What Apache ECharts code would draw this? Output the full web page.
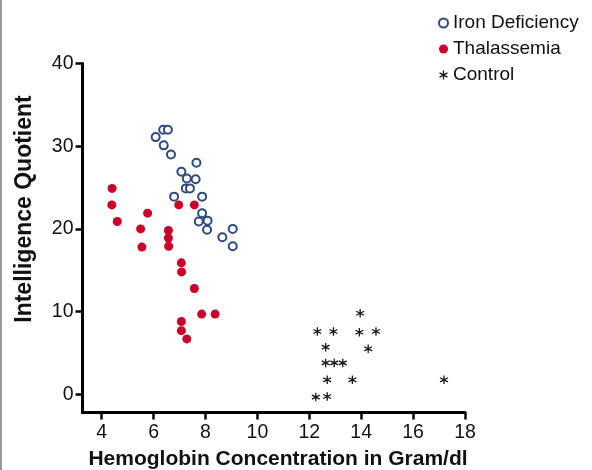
<!DOCTYPE html>
<html>
<head>
<meta charset="utf-8">
<script src="https://cdn.jsdelivr.net/npm/echarts@6/dist/echarts.min.js"></script>
<style>html,body{margin:0;padding:0;background:#fff;}#c{width:592px;height:470px;}</style>
</head>
<body>
<div id="c"></div>
<script>
// Data
const seriesNames = ['Iron Deficiency', 'Thalassemia', 'Control'];
const ironX = [6.08, 6.37, 6.55, 6.39, 6.67, 7.65, 7.07, 7.28, 7.62, 7.24, 7.40, 6.79, 7.87, 7.87, 7.74, 8.08, 8.06, 9.05, 8.65, 9.05];
const ironY = [31.1, 32.0, 32.0, 30.1, 29.0, 28.0, 26.9, 26.1, 26.0, 24.9, 24.9, 23.9, 23.9, 21.9, 20.9, 21.0, 19.9, 20.0, 19.0, 17.9];
const thalX = [4.40, 4.39, 4.60, 5.77, 5.50, 5.55, 6.97, 7.57, 6.57, 6.57, 6.58, 7.07, 7.08, 7.57, 7.85, 8.37, 7.07, 7.07, 7.28];
const thalY = [24.9, 22.9, 20.9, 21.9, 20.0, 17.8, 22.9, 22.9, 19.8, 18.9, 17.9, 15.9, 14.8, 12.8, 9.7, 9.7, 8.8, 7.7, 6.7];
const ctrlX = [13.96, 12.31, 12.93, 13.93, 14.57, 12.63, 14.27, 12.63, 12.96, 13.29, 12.69, 13.66, 17.19, 12.25, 12.69];
const ctrlY = [9.8, 7.6, 7.6, 7.5, 7.6, 5.7, 5.5, 3.8, 3.8, 3.8, 1.75, 1.75, 1.75, -0.34, -0.27];
const xTicks = [4, 6, 8, 10, 12, 14, 16, 18];
const yTicks = [0, 10, 20, 30, 40];
const xTitle = 'Hemoglobin Concentration in Gram/dl';
const yTitle = 'Intelligence Quotient';

const zip = (xs, ys) => xs.map((x, i) => [x, ys[i]]);
const asterisk = 'path://M8.5 0 L11.5 0 L11.5 20 L8.5 20 Z M0.45 6.55 L1.95 3.95 L19.55 13.45 L18.05 16.05 Z M1.95 16.05 L0.45 13.45 L18.05 3.95 L19.55 6.55 Z';
const FONT = "'Liberation Sans', Arial, sans-serif";

const chart = echarts.init(document.getElementById('c'), null, {renderer: 'canvas'});
chart.setOption({
  animation: false,
  backgroundColor: '#ffffff',
  grid: {left: 82.5, right: 127, top: 63.5, bottom: 57.5, containLabel: false},
  legend: {
    orient: 'vertical', left: 438, top: 13, padding: 0, itemWidth: 9, itemHeight: 9, itemGap: 6,
    textStyle: {fontFamily: FONT, fontSize: 19, color: '#111', lineHeight: 20},
    data: seriesNames
  },
  xAxis: {
    type: 'value', min: 3.26, max: 18,
    axisLine: {onZero: false, lineStyle: {color: '#000', width: 3}},
    axisTick: {show: true, length: 7, lineStyle: {color: '#000', width: 2.5}, customValues: xTicks},
    axisLabel: {margin: 10, fontFamily: FONT, fontSize: 19.5, color: '#111', customValues: xTicks},
    splitLine: {show: false}
  },
  yAxis: {
    type: 'value', min: -2.2, max: 40,
    axisLine: {show: true, onZero: false, lineStyle: {color: '#000', width: 3}},
    axisTick: {show: true, length: 7, lineStyle: {color: '#000', width: 2.5}, customValues: yTicks},
    axisLabel: {margin: 9, fontFamily: FONT, fontSize: 19.5, color: '#111', customValues: yTicks},
    splitLine: {show: false}
  },
  series: [
    {
      name: seriesNames[0], type: 'scatter', data: zip(ironX, ironY),
      symbol: 'circle', symbolSize: 8,
      itemStyle: {color: '#ffffff', borderColor: '#2f4a7e', borderWidth: 2, opacity: 1}
    },
    {
      name: seriesNames[1], type: 'scatter', data: zip(thalX, thalY),
      symbol: 'circle', symbolSize: 9,
      itemStyle: {color: '#c8002a', opacity: 1}
    },
    {
      name: seriesNames[2], type: 'scatter', data: zip(ctrlX, ctrlY),
      symbol: asterisk, symbolSize: 8.5,
      itemStyle: {color: '#1a1a1a', opacity: 1}
    }
  ],
  graphic: [
    {type: 'rect', left: 0, top: 0, shape: {width: 2, height: 470}, style: {fill: '#9a9a9a'}, silent: true},
    {type: 'text', x: 25, y: 209, rotation: Math.PI / 2,
     style: {text: yTitle, font: "bold 23px 'Liberation Sans', Arial, sans-serif", fill: '#111', textAlign: 'center', textVerticalAlign: 'middle'}},
    {type: 'text', x: 278, y: 459,
     style: {text: xTitle, font: "bold 21px 'Liberation Sans', Arial, sans-serif", fill: '#111', textAlign: 'center', textVerticalAlign: 'middle'}}
  ]
});
</script>
</body>
</html>
